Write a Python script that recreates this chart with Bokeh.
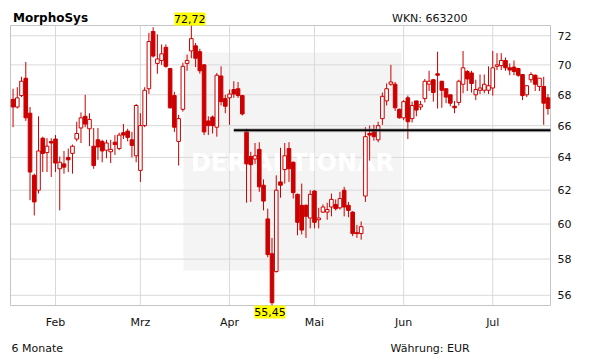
import math
from bokeh.plotting import figure
from bokeh.models import Range1d, ColumnDataSource
from bokeh.core.properties import value
from bokeh.embed import file_html
from bokeh.resources import INLINE

# ---------------- data ----------------
chart_title = "MorphoSys"
wkn_text = "WKN: 663200"
period_text = "6 Monate"
currency_text = "Währung: EUR"
watermark_text = "DER AKTIONÄR"

opens = [67.7, 67.2, 67.95, 69.1, 66.8, 62.9, 62.0, 65.2, 64.3, 65.0,
         65.15, 63.3, 63.6, 64.0, 64.25, 65.15, 65.85, 66.6, 65.8, 64.7,
         65.1, 65.0, 64.45, 64.35, 64.95, 64.55, 65.55, 65.65, 65.1, 64.1,
         63.2, 66.0, 68.4, 72.3, 70.1, 70.3, 71.2, 69.75, 67.95, 65.0,
         67.05, 70.1, 70.95, 71.3, 70.9, 70.0, 66.3, 66.55, 65.9, 69.25,
         67.75, 67.8, 68.35, 68.4, 67.95, 65.6, 64.05, 63.9, 64.5, 62.3,
         60.3, 58.3, 57.3, 62.5, 63.25, 64.55, 63.7, 61.75, 61.1, 61.1,
         60.35, 61.95, 60.25, 60.7, 60.7, 61.0, 61.15, 60.95, 62.0, 61.1,
         60.7, 59.5, 59.45, 61.65, 65.5, 65.75, 65.1, 66.45, 67.6, 68.7,
         68.7, 67.05, 66.5, 67.8, 66.45, 67.6, 67.2, 67.75, 68.7, 69.0,
         69.4, 68.9, 68.4, 68.0, 67.25, 67.5, 68.7, 69.55, 69.45, 68.0,
         68.3, 68.3, 68.3, 68.45, 69.9, 69.95, 70.3, 69.8, 69.85, 69.75,
         69.35, 68.0, 69.0, 69.3, 68.55, 68.55, 67.8]
highs = [68.4, 68.5, 69.2, 70.2, 67.2, 63.0, 66.6, 65.3, 65.2, 65.2,
         65.4, 64.05, 64.4, 64.55, 64.8, 66.25, 66.85, 68.0, 66.8, 65.85,
         65.85, 65.1, 65.1, 65.1, 65.4, 65.55, 66.1, 65.8, 65.6, 67.4,
         66.8, 68.5, 72.2, 72.6, 72.1, 71.4, 71.4, 69.8, 68.2, 66.7,
         70.15, 70.7, 72.72, 71.5, 71.1, 70.05, 66.6, 66.65, 69.45, 69.9,
         68.0, 68.35, 68.9, 68.85, 68.0, 65.8, 64.35, 64.9, 64.95, 62.65,
         60.9, 59.2, 62.9, 64.6, 64.9, 64.95, 63.75, 61.8, 62.4, 61.15,
         62.0, 62.0, 60.95, 61.15, 61.25, 61.8, 61.45, 61.9, 62.2, 61.3,
         60.75, 59.95, 60.15, 65.9, 66.0, 66.05, 66.25, 68.15, 68.75, 70.0,
         68.85, 67.1, 67.65, 67.95, 67.55, 67.6, 67.6, 69.05, 69.6, 69.05,
         70.9, 68.9, 68.4, 68.0, 67.6, 69.0, 70.95, 69.65, 69.6, 69.0,
         69.35, 69.35, 69.9, 70.95, 70.8, 70.8, 70.5, 70.1, 70.3, 69.8,
         69.35, 68.6, 69.5, 69.35, 69.1, 69.2, 68.05]
lows = [65.9, 67.1, 67.85, 66.3, 61.4, 60.5, 61.8, 63.1, 63.1, 62.8,
        63.1, 60.8, 63.0, 63.1, 63.0, 65.0, 64.9, 65.9, 64.7, 63.3,
        63.85, 63.7, 63.95, 63.65, 64.15, 64.45, 65.15, 65.0, 64.0, 63.7,
        62.5, 65.9, 68.05, 70.5, 69.4, 70.0, 69.8, 67.1, 65.6, 63.5,
        66.9, 69.6, 70.45, 69.85, 69.4, 65.4, 65.4, 65.5, 65.3, 67.3,
        66.8, 66.05, 67.8, 67.8, 66.65, 61.25, 61.3, 63.6, 61.9, 60.8,
        58.1, 55.45, 57.25, 61.55, 62.4, 62.5, 61.5, 59.35, 59.4, 59.2,
        59.75, 59.75, 59.75, 60.65, 60.25, 60.45, 60.8, 60.85, 60.45, 60.4,
        59.3, 59.2, 59.1, 61.3, 63.8, 65.05, 64.95, 66.05, 67.3, 68.6,
        66.95, 66.45, 66.35, 65.15, 66.2, 66.6, 67.0, 67.5, 68.25, 67.55,
        67.1, 67.15, 67.45, 67.25, 66.8, 67.3, 68.1, 68.25, 68.15, 67.65,
        68.05, 68.1, 68.05, 67.95, 69.65, 69.65, 69.6, 69.3, 69.3, 69.2,
        67.65, 67.85, 68.8, 68.25, 68.25, 66.05, 66.7]
closes = [67.2, 67.8, 68.9, 66.5, 63.1, 61.3, 64.4, 64.25, 64.7, 64.9,
          63.65, 63.7, 63.4, 63.85, 64.7, 65.5, 66.5, 66.1, 66.4, 63.5,
          64.65, 64.4, 64.9, 64.5, 64.8, 65.4, 65.4, 65.25, 64.75, 67.3,
          66.0, 68.3, 71.6, 70.6, 70.4, 70.75, 69.9, 67.15, 65.9, 66.45,
          69.9, 70.3, 71.8, 70.45, 69.6, 65.6, 66.0, 66.0, 69.3, 67.55,
          67.25, 68.05, 68.05, 67.95, 66.75, 63.6, 63.55, 64.1, 62.2, 61.35,
          58.25, 55.6, 62.0, 62.3, 64.1, 63.3, 61.85, 60.1, 59.65, 60.45,
          61.75, 60.1, 60.35, 61.0, 60.85, 61.45, 60.9, 61.5, 61.0, 60.8,
          59.45, 59.45, 59.85, 65.3, 65.4, 65.3, 66.0, 67.9, 68.4, 68.85,
          67.15, 66.5, 67.55, 66.25, 67.3, 67.0, 67.35, 68.9, 68.9, 68.15,
          69.3, 68.3, 67.85, 67.45, 67.15, 68.9, 69.8, 69.05, 68.75, 68.35,
          68.45, 68.7, 68.6, 69.8, 70.0, 70.3, 69.8, 69.65, 69.55, 69.3,
          67.95, 68.6, 69.35, 68.7, 69.1, 67.45, 67.1]

month_starts = [10, 30, 51, 71, 92, 113]
month_names = ["Feb", "Mrz", "Apr", "Mai", "Jun", "Jul"]
price_ticks = [56, 58, 60, 62, 64, 66, 68, 70, 72]
resistance_level = 65.7
resistance_start = 52

# ---------------- layout helpers (pixel frame of the inner chart) ----------------
W, H = 611, 364
FL, FR, FT, FB = 10, 550, 25, 305
RED = "#cc0000"
FONT = value("DejaVu Sans")
TXT = "#111111"

n = len(closes)
xs = list(range(n))
y_lo, y_hi = min(lows), max(highs)
x_in0, x_in1 = -0.6, n - 0.4
ppx = (FR - FL) / (x_in1 - x_in0)
lnpp = math.log(y_hi / y_lo) / (FB - FT)


def X(px):
    return x_in0 + (px - FL) / ppx


def Y(py):
    return y_lo * math.exp((FB - py) * lnpp)


p = figure(width=W, height=H, output_backend="svg", toolbar_location=None,
           x_range=Range1d(X(0), X(W)), y_range=Range1d(Y(H), Y(0)),
           y_axis_type="log", min_border=0)
p.axis.visible = False
p.grid.visible = False
p.outline_line_color = None
p.background_fill_color = "white"
p.border_fill_color = "white"

# watermark box
p.quad(left=[X(183)], right=[X(401)], top=[Y(52)], bottom=[Y(270)],
       fill_color="#f4f4f4", line_color=None)

# grid lines
p.segment(x0=[x_in0] * len(price_ticks), x1=[x_in1] * len(price_ticks),
          y0=price_ticks, y1=price_ticks, line_color="#d9d9d9", line_width=1)
p.segment(x0=month_starts, x1=month_starts, y0=[y_lo] * len(month_starts),
          y1=[y_hi] * len(month_starts), line_color="#d9d9d9", line_width=1)

# watermark text
p.text(x=[X(292)], y=[Y(162)], text=[watermark_text], text_align="center",
       text_baseline="middle", text_font=FONT, text_font_size="24px",
       text_font_style="bold", text_color="white")

# frame outline
p.quad(left=[x_in0], right=[x_in1], top=[y_hi], bottom=[y_lo],
       fill_color=None, line_color="#c4c4c4", line_width=1)

# candles
tops = [max(o, c) for o, c in zip(opens, closes)]
bottoms = [min(o, c) for o, c in zip(opens, closes)]
fills = ["white" if c >= o else RED for o, c in zip(opens, closes)]
src = ColumnDataSource(dict(x=xs, h=highs, l=lows, top=tops, bottom=bottoms, fill=fills))
p.segment(x0="x", y0="h", x1="x", y1="l", source=src, line_color=RED, line_width=1)
p.vbar(x="x", width=0.85, top="top", bottom="bottom", source=src,
       fill_color="fill", line_color=RED, line_width=1)

# resistance line
p.segment(x0=[resistance_start], y0=[resistance_level], x1=[x_in1], y1=[resistance_level],
          line_color="#888888", line_width=4, line_alpha=0.5)
p.segment(x0=[resistance_start], y0=[resistance_level], x1=[x_in1], y1=[resistance_level],
          line_color="black", line_width=2)

# high / low markers
i_hi = highs.index(y_hi)
i_lo = lows.index(y_lo)


def fmt(v):
    return f"{v:.2f}".replace(".", ",")


p.rect(x=[i_hi - 0.35], y=[Y(FT - 6.5)], width=31, height=13, width_units="screen",
       height_units="screen", fill_color="#ffff00", line_color=None)
p.text(x=[i_hi - 0.35], y=[Y(FT - 6.5)], text=[fmt(y_hi)], text_align="center",
       text_baseline="middle", text_font=FONT, text_font_size="11px", text_color="black")
p.rect(x=[i_lo - 0.5], y=[Y(FB + 6.5)], width=31, height=13, width_units="screen",
       height_units="screen", fill_color="#ffff00", line_color=None)
p.text(x=[i_lo - 0.5], y=[Y(FB + 6.5)], text=[fmt(y_lo)], text_align="center",
       text_baseline="middle", text_font=FONT, text_font_size="11px", text_color="black")

# axis labels
p.text(x=[X(557)] * len(price_ticks), y=price_ticks, text=[str(t) for t in price_ticks],
       text_align="left", text_baseline="middle", text_font=FONT,
       text_font_size="11px", text_color=TXT)
p.text(x=month_starts, y=[Y(322)] * len(month_starts), text=month_names,
       text_align="center", text_baseline="middle", text_font=FONT,
       text_font_size="11px", text_color=TXT)

# header / footer texts
p.text(x=[X(12.5)], y=[Y(17)], text=[chart_title], text_baseline="alphabetic",
       text_font=FONT, text_font_size="12px", text_font_style="bold", text_color="black")
p.text(x=[X(391.5)], y=[Y(18)], text=[wkn_text], text_baseline="alphabetic",
       text_font=FONT, text_font_size="11px", text_color=TXT)
p.text(x=[X(11)], y=[Y(348)], text=[period_text], text_baseline="alphabetic",
       text_font=FONT, text_font_size="11px", text_color=TXT)
p.text(x=[X(390)], y=[Y(348)], text=[currency_text], text_baseline="alphabetic",
       text_font=FONT, text_font_size="11px", text_color=TXT)

open("out.html", "w").write(file_html(p, INLINE))
